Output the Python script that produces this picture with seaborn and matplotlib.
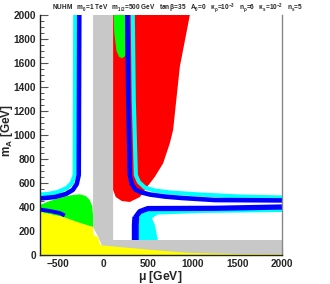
import matplotlib
matplotlib.use("Agg")
import matplotlib.pyplot as plt
import seaborn as sns
import pandas as pd
from matplotlib.ticker import MultipleLocator

# ---------------- data (mu [GeV], m_A [GeV]) ----------------
# excluded / constraint regions (boundaries)
yellow_mu = [-705, -705, -451, -261, -112, -105, -56, -35, -15, 110, 500, 970, 1500, 2000, 2000]
yellow_mA = [0, 358, 317, 267, 233, 165, 150, 90, 80, 72, 45, 17, 8, 5, 0]

green_left_mu = [-705, -596, -485, -373, -261, -194, -149, -121, -112, -112, -261, -451, -705]
green_left_mA = [417, 450, 475, 496, 506, 492, 458, 408, 333, 233, 267, 317, 358]

green_top_mu = [115, 250, 250, 215, 180, 150, 125, 118]
green_top_mA = [2000, 2000, 1660, 1640, 1650, 1700, 1850, 2000]

grey_mu = [-112, 112, 112, 2000, 2000, -15, -15, -56, -112]
grey_mA = [2000, 2000, 125, 125, 0, 0, 83, 153, 233]

red_mu = [112, 970, 858, 783, 746, 671, 579, 500, 411, 299, 209, 142, 112]
red_mA = [2000, 2000, 1569, 1042, 931, 764, 652, 575, 483, 442, 450, 483, 542]

cyan_wedge_mu = [411, 612, 579, 545, 612, 1082, 2000, 2000, 1082, 523, 422, 388, 383]
cyan_wedge_mA = [125, 125, 250, 308, 337, 350, 358, 392, 379, 375, 342, 275, 125]

# relic density bands (blue = core, cyan = edge)
left_blue_mu = [-266, -272, -294, -339, -417, -540, -705]
left_blue_mA = [2000, 667, 592, 542, 508, 483, 471]
left_cyan_mu = [-311, -317, -350, -406, -507, -619, -705]
left_cyan_mA = [2000, 667, 600, 558, 525, 508, 504]

streak_mu = [-705, -596, -485, -428]
streak_mA = [379, 367, 350, 329]

up_blue_mu = [271, 282, 299, 321, 360, 433, 523, 690, 881, 1250, 2000]
up_blue_mA = [2000, 1292, 667, 592, 546, 521, 504, 487, 475, 458, 455]
up_cyan_mu = [332, 343, 366, 400, 467, 579, 746, 1082, 1530, 2000]
up_cyan_mA = [2000, 1292, 667, 608, 562, 537, 521, 504, 487, 479]

low_blue_mu = [2000, 1250, 500, 411, 366, 360, 360]
low_blue_mA = [400, 389, 387, 362, 317, 250, 125]

header = (r"NUHM   $m_0$=1 TeV   $m_{1/2}$=500 GeV   tan$\,\beta$=35   $A_0$=0   "
          r"$\kappa_\rho$=10$^{-3}$   $n_\rho$=6   $\kappa_s$=10$^{-2}$   $n_s$=5")

# ---------------- style ----------------
sns.set_style("ticks")
plt.rcParams["font.family"] = ["Liberation Sans", "DejaVu Sans"]
plt.rcParams["mathtext.fontset"] = "custom"
plt.rcParams["mathtext.rm"] = "Liberation Sans:bold"
plt.rcParams["mathtext.it"] = "Liberation Sans:bold"
plt.rcParams["mathtext.bf"] = "Liberation Sans:bold"

RED, GREEN, YEL, GREY = "#ff0000", "#00ff00", "#ffff00", "#c8c8c8"
BLUE, CYAN = "#0000ff", "#00ffff"

fig = plt.figure(figsize=(3.3, 2.84), dpi=100)
ax = fig.add_axes([40 / 330, 1 - 255 / 284, (282 - 40) / 330, (255 - 15) / 284])

ax.fill(grey_mu, grey_mA, color=GREY, lw=0, zorder=1)
ax.fill(red_mu, red_mA, color=RED, lw=0, zorder=2)
ax.fill(green_top_mu, green_top_mA, color=GREEN, lw=0, zorder=3)
ax.fill(green_left_mu, green_left_mA, color=GREEN, lw=0, zorder=2)
ax.fill(yellow_mu, yellow_mA, color=YEL, lw=0, zorder=3)
ax.fill(cyan_wedge_mu, cyan_wedge_mA, color=CYAN, lw=0, zorder=4)

def band(mu, mA, color, width, z):
    d = pd.DataFrame({"mu": mu, "mA": mA})
    sns.lineplot(data=d, x="mu", y="mA", sort=False, estimator=None, color=color,
                 lw=width, ax=ax, zorder=z, solid_joinstyle="round", solid_capstyle="butt")

band(left_cyan_mu, left_cyan_mA, CYAN, 3.0, 5)
band(up_cyan_mu, up_cyan_mA, CYAN, 3.0, 5)
band(left_blue_mu, left_blue_mA, BLUE, 3.3, 6)
band(up_blue_mu, up_blue_mA, BLUE, 3.3, 6)
band(low_blue_mu, low_blue_mA, BLUE, 3.8, 6)
band(low_blue_mu[-3:], low_blue_mA[-3:], BLUE, 5.0, 6)
band(streak_mu, streak_mA, BLUE, 2.8, 6)

ax.set_xlim(-705, 2000)
ax.set_ylim(0, 2000)
ax.set_xlabel(r"$\mathrm{\mu}$ [GeV]", fontsize=8.7, fontweight="bold")
ax.set_ylabel(r"m$_\mathrm{A}$ [GeV]", fontsize=8.5, fontweight="bold")
ax.xaxis.set_label_coords(0.496, -0.060)
ax.yaxis.set_label_coords(-0.137, 0.52)
ax.yaxis.label.set_va("center")

ax.xaxis.set_major_locator(MultipleLocator(500))
ax.xaxis.set_minor_locator(MultipleLocator(100))
ax.yaxis.set_major_locator(MultipleLocator(200))
ax.yaxis.set_minor_locator(MultipleLocator(50))
ax.tick_params(axis="both", which="major", direction="in", length=6, width=0.8,
               labelsize=7.3, color="#555555")
ax.tick_params(axis="y", which="major", pad=3.0)
ax.tick_params(axis="x", which="major", pad=3.0)
ax.tick_params(axis="both", which="minor", direction="in", length=3, width=0.7, color="#555555")
for lab in ax.get_xticklabels() + ax.get_yticklabels():
    lab.set_fontweight("bold")

ax.spines["top"].set_visible(False)
ax.spines["right"].set_color("#888888")
ax.spines["right"].set_linewidth(1.0)
ax.spines["left"].set_color("#222222")
ax.spines["bottom"].set_color("#222222")
ax.spines["left"].set_linewidth(1.0)
ax.spines["bottom"].set_linewidth(1.0)
for s in ax.spines.values():
    s.set_zorder(10)

fig.text(52 / 330, 1 - 8 / 284, header, fontsize=4.7, fontweight="bold", va="center", ha="left")

fig.savefig("out.png", dpi=100)
